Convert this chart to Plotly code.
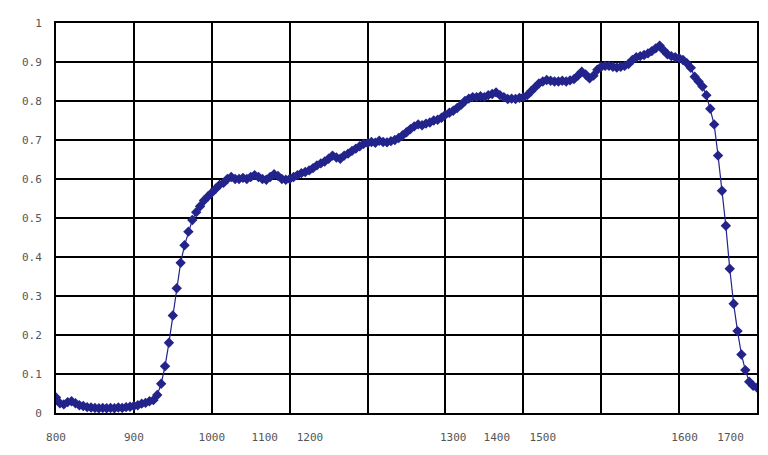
import plotly.graph_objects as go

wavelengths = list(range(800, 1701, 5))
values = [
    0.040, 0.025, 0.022, 0.028, 0.030, 0.025, 0.020, 0.018, 0.015, 0.014,   # 800-845
    0.013, 0.012, 0.013, 0.012, 0.013, 0.012, 0.014, 0.013, 0.015, 0.016,   # 850-895
    0.018, 0.020, 0.024, 0.026, 0.030, 0.033, 0.046, 0.075, 0.120, 0.180,   # 900-945
    0.250, 0.320, 0.385, 0.430, 0.465, 0.495, 0.515, 0.530, 0.545, 0.555,   # 950-995
    0.565, 0.575, 0.585, 0.590, 0.600, 0.605, 0.600, 0.600, 0.603, 0.600,   # 1000-1045
    0.605, 0.610, 0.605, 0.600, 0.598, 0.605, 0.612, 0.608, 0.600, 0.598,   # 1050-1095
    0.600, 0.605, 0.610, 0.615, 0.618, 0.622, 0.628, 0.635, 0.640, 0.645,   # 1100-1145
    0.652, 0.660, 0.655, 0.652, 0.660, 0.665, 0.672, 0.678, 0.684, 0.690,   # 1150-1195
    0.692, 0.695, 0.693, 0.698, 0.695, 0.694, 0.697, 0.700, 0.705, 0.712,   # 1200-1245
    0.720, 0.728, 0.735, 0.740, 0.738, 0.742, 0.745, 0.750, 0.752, 0.757,   # 1250-1295
    0.765, 0.770, 0.775, 0.782, 0.790, 0.800, 0.806, 0.810, 0.810, 0.812,   # 1300-1345
    0.810, 0.815, 0.818, 0.822, 0.815, 0.810, 0.805, 0.806, 0.805, 0.808,   # 1350-1395
    0.810, 0.815, 0.825, 0.835, 0.845, 0.850, 0.854, 0.852, 0.850, 0.850,   # 1400-1445
    0.852, 0.850, 0.853, 0.856, 0.865, 0.875, 0.868, 0.858, 0.865, 0.880,   # 1450-1495
    0.888, 0.890, 0.890, 0.888, 0.886, 0.888, 0.890, 0.895, 0.905, 0.912,   # 1500-1545
    0.915, 0.918, 0.922, 0.928, 0.935, 0.942, 0.930, 0.920, 0.915, 0.912,   # 1550-1595
    0.910, 0.905, 0.897, 0.885, 0.862, 0.850, 0.837, 0.815, 0.780, 0.740,   # 1600-1645
    0.660, 0.570, 0.480, 0.370, 0.280, 0.210, 0.150, 0.110, 0.080, 0.070,   # 1650-1695
    0.065,                                                                  # 1700
]

# tick labels along the bottom and where they sit on the wavelength scale
x_tick_labels = ["800", "900", "1000", "1100", "1200", "1300", "1400", "1500", "1600", "1700"]
x_tick_label_pos = [800, 900, 1000, 1068, 1126, 1310, 1366, 1425, 1607, 1666]
y_tick_vals = [0, 0.1, 0.2, 0.3, 0.4, 0.5, 0.6, 0.7, 0.8, 0.9, 1]
y_tick_labels = ["0", "0.1", "0.2", "0.3", "0.4", "0.5", "0.6", "0.7", "0.8", "0.9", "1"]

navy = "#23238c"
tick_font = dict(family="DejaVu Sans Mono", size=11, color="#555555")

fig = go.Figure()
fig.add_trace(go.Scatter(
    x=wavelengths, y=values, mode="lines+markers",
    line=dict(color=navy, width=1.2),
    marker=dict(symbol="diamond", size=8, color=navy),
    showlegend=False,
))

# the page body keeps the browser's default 8px margin, so the figure is
# sized and padded to put the plot area where the reference has it
fig.update_layout(
    width=760, height=447,
    margin=dict(l=48, r=11, t=15, b=42),
    paper_bgcolor="white", plot_bgcolor="white",
    xaxis=dict(
        range=[800, 1700], automargin=False,
        tickmode="array", tickvals=x_tick_label_pos, ticktext=x_tick_labels,
        showgrid=False, ticks="", zeroline=False,
        tickfont=tick_font, ticklabelstandoff=13,
        minor=dict(tickmode="linear", tick0=800, dtick=100,
                   showgrid=True, gridcolor="black", gridwidth=2, ticks=""),
        showline=True, linecolor="black", linewidth=2, mirror=True,
    ),
    yaxis=dict(
        range=[0, 1], automargin=False,
        tickmode="array", tickvals=y_tick_vals, ticktext=y_tick_labels,
        showgrid=True, gridcolor="black", gridwidth=2, zeroline=False,
        showline=True, linecolor="black", linewidth=2, mirror=True,
        ticks="", tickfont=tick_font, ticklabelstandoff=10,
    ),
)

fig.write_html("out.html")
